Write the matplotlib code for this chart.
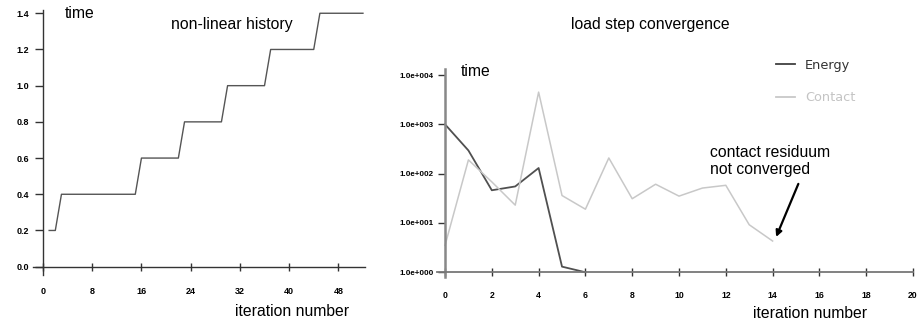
import matplotlib
matplotlib.use("Agg")
import matplotlib.pyplot as plt
from matplotlib.ticker import FixedLocator, NullLocator

plt.rcParams['font.family'] = ['Liberation Sans', 'DejaVu Sans']

# ---- data: non-linear history (left) ----
hist_iter = [1, 2, 3, 15, 16, 22, 23, 29, 30, 36, 37, 44, 45, 52]
hist_time = [0.2, 0.2, 0.4, 0.4, 0.6, 0.6, 0.8, 0.8, 1.0, 1.0, 1.2, 1.2, 1.4, 1.4]
left_xticks = [0, 8, 16, 24, 32, 40, 48]
left_yticks = [0.0, 0.2, 0.4, 0.6, 0.8, 1.0, 1.2, 1.4]

# ---- data: load step convergence (right) ----
energy_iter = [0, 1, 2, 3, 4, 5, 6]
energy_vals = [1000, 295, 46, 55, 130, 1.3, 1.0]
contact_iter = [0, 1, 2, 3, 4, 5, 6, 7, 8, 9, 10, 11, 12, 13, 14]
contact_vals = [3.5, 190, 68, 23, 4500, 36, 19, 208, 31, 61, 35, 51, 58, 9.2, 4.3]
right_xticks = [0, 2, 4, 6, 8, 10, 12, 14, 16, 18, 20]
right_yticks = [1, 10, 100, 1000, 10000]
right_ylabels = ["1.0e+000", "1.0e+001", "1.0e+002", "1.0e+003", "1.0e+004"]

W, H = 917, 322
fig = plt.figure(figsize=(W / 100, H / 100), dpi=100)

def fx(px):
    return px / W

def fy(py):
    return 1 - py / H

tickfont = dict(family='Liberation Sans', weight='bold')

# ---------------- left axes ----------------
ax1 = fig.add_axes([fx(33.4), fy(275), fx(364.8 - 33.4), (275 - 10) / H])
ax1.plot(hist_iter, hist_time, color='#555555', lw=1.0)
ax1.set_xlim(-1.56, 52.3)
ax1.set_ylim(-0.046, 1.418)
for s in ['top', 'right']:
    ax1.spines[s].set_visible(False)
ax1.spines['left'].set_position(('data', 0))
ax1.spines['bottom'].set_position(('data', 0))
for s in ['left', 'bottom']:
    ax1.spines[s].set_color('#333333')
    ax1.spines[s].set_linewidth(1.0)
ax1.xaxis.set_major_locator(FixedLocator(left_xticks))
ax1.yaxis.set_major_locator(FixedLocator(left_yticks))
ax1.set_xticklabels([str(v) for v in left_xticks], fontsize=6.5, **tickfont)
ax1.set_yticklabels([f"{v:.1f}" for v in left_yticks], fontsize=6.5, **tickfont)
ax1.tick_params(axis='y', direction='out', length=5.5, width=1, color='#333333', pad=4.5)
ax1.tick_params(axis='x', direction='inout', length=6, width=1, color='#333333', pad=11.5)
ax1.patch.set_alpha(0)

fig.text(fx(65), fy(13), "time", fontsize=11.3, va='center', ha='left')
fig.text(fx(232), fy(25), "non-linear history", fontsize=11.3, va='center', ha='center')
fig.text(fx(292.5), fy(312), "iteration number", fontsize=11.3, va='center', ha='center')

# ---------------- right axes ----------------
ax2 = fig.add_axes([fx(437.3), fy(276.7), fx(913 - 437.3), (276.7 - 69.3) / H])
ax2.set_yscale('log')
l_en, = ax2.plot(energy_iter, energy_vals, color='#505050', lw=1.3, label='Energy')
l_co, = ax2.plot(contact_iter, contact_vals, color='#c8c8c8', lw=1.1, label='Contact')
ax2.set_xlim(-0.33, 20)
ax2.set_ylim(10 ** -0.09, 10 ** 4.116)
for s in ['top', 'right']:
    ax2.spines[s].set_visible(False)
ax2.spines['left'].set_position(('data', 0))
ax2.spines['bottom'].set_position(('data', 1))
ax2.spines['left'].set_color('#888888')
ax2.spines['left'].set_linewidth(1.8)
ax2.spines['bottom'].set_color('#777777')
ax2.spines['bottom'].set_linewidth(1.3)
ax2.xaxis.set_major_locator(FixedLocator(right_xticks))
ax2.yaxis.set_major_locator(FixedLocator(right_yticks))
ax2.yaxis.set_minor_locator(NullLocator())
ax2.set_xticklabels([str(v) for v in right_xticks], fontsize=6.2, **tickfont)
ax2.set_yticklabels(right_ylabels, fontsize=5.8, **tickfont)
ax2.tick_params(axis='y', direction='out', length=5, width=1, color='#333333', pad=3)
ax2.tick_params(axis='x', direction='inout', length=6, width=1, color='#333333', pad=10.5)
ax2.patch.set_alpha(0)

leg = ax2.legend(handles=[l_en, l_co], loc='upper left',
                 bbox_to_anchor=(fx(776), fy(59)), bbox_transform=fig.transFigure,
                 frameon=False, borderpad=0, borderaxespad=0,
                 handlelength=1.5, handletextpad=0.75, labelspacing=1.5,
                 prop=dict(family='DejaVu Sans', size=9.3, weight='medium'),
                 labelcolor=['#333333', '#c4c4c4'])
for h in leg.legend_handles:
    h.set_linewidth(1.3)
leg.legend_handles[0].set_color('#404040')

fig.text(fx(650), fy(25), "load step convergence", fontsize=11.3, va='center', ha='center')
fig.text(fx(460.5), fy(71), "time", fontsize=11.3, va='center', ha='left')
fig.text(fx(710), fy(161), "contact residuum\nnot converged", fontsize=11.3,
         va='center', ha='left', linespacing=1.1)
fig.text(fx(810), fy(313), "iteration number", fontsize=11.3, va='center', ha='center')

ax2.annotate("", xy=(14.15, 5.2), xytext=(15.1, 62),
             arrowprops=dict(arrowstyle='-|>', color='black', lw=1.6,
                             mutation_scale=9, shrinkA=0, shrinkB=0))

fig.savefig("out.png", dpi=100)
